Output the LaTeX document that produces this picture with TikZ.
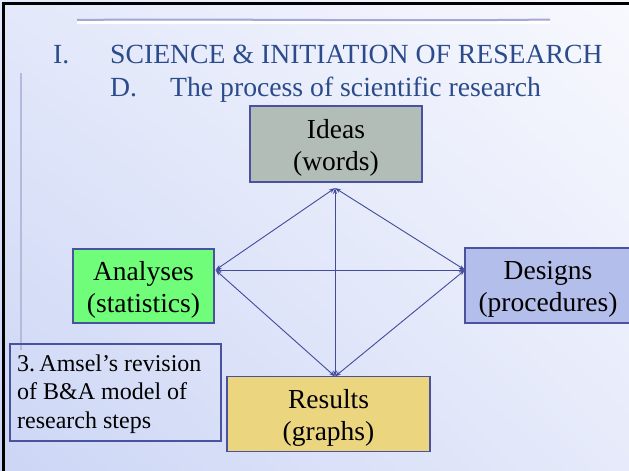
\documentclass[tikz,border=0pt]{standalone}
\usepackage{fontspec}
\setmainfont{Liberation Serif}
\usetikzlibrary{arrows.meta,shadings}
\definecolor{titleblue}{HTML}{2B4B8B}
\definecolor{edge}{HTML}{4A529F}
\definecolor{arrowc}{HTML}{434C9C}
\definecolor{ideasfill}{HTML}{B3BDB8}
\definecolor{analysesfill}{HTML}{70FD7A}
\definecolor{designsfill}{HTML}{B4BEEB}
\definecolor{resultsfill}{HTML}{EBD57F}
\definecolor{bgUL}{HTML}{E3E8FA}
\definecolor{bgUR}{HTML}{F8F9FE}
\definecolor{bgLL}{HTML}{CCD6F5}
\definecolor{bgLR}{HTML}{E6EAFA}
\definecolor{decoline}{HTML}{A4A8D2}
\begin{document}
\begin{tikzpicture}[x=1pt,y=-1pt,
 box/.style={draw=edge, line width=1.1pt, rectangle, inner sep=0pt},
 boxtext/.style={inner sep=0pt, align=center, yshift=-3.5pt, font=\fontsize{27.5}{32}\selectfont},
 link/.style={draw=arrowc, line width=0.9pt, {Stealth[length=6pt,width=4pt]}-{Stealth[length=6pt,width=4pt]}},
 titletext/.style={anchor=base west, inner sep=0pt, text=titleblue, font=\fontsize{27.7}{33}\selectfont},
 notetext/.style={anchor=north west, inner sep=0pt, align=left, font=\fontsize{24}{28.5}\selectfont}]
\useasboundingbox (0,0) rectangle (629,471);
\shade[shading=bilinear interpolation, upper left=bgUL, upper right=bgUR, lower left=bgLL, lower right=bgLR] (0,0) rectangle (629,471);
\draw[black, line width=3.5pt] (3.5,471) -- (3.5,3.5) -- (629,3.5);
\draw[white, line width=3pt] (77,22.5) -- (550,22.5);
\draw[decoline, line width=2pt] (77,20) .. controls (200,18.5) and (400,21.5) .. (550,19.5);
\draw[decoline!80, line width=2pt] (21,73) -- (21,350);

\node[titletext] (t1) at (53,63) {I.};
\node[titletext] (t2) at (110,63) {SCIENCE \& INITIATION OF RESEARCH};
\node[titletext] (t3) at (110,96) {D.};
\node[titletext] (t4) at (170,96) {The process of scientific research};

\node[box, fill=ideasfill, minimum width=172, minimum height=76] (ideas) at (336,144) {};
\node[boxtext] (ideasT) at (ideas.center) {Ideas\\(words)};
\node[box, fill=analysesfill, minimum width=141, minimum height=74] (analyses) at (143.5,286) {};
\node[boxtext] (analysesT) at (analyses.center) {Analyses\\(statistics)};
\node[box, fill=designsfill, minimum width=167, minimum height=75] (designs) at (548.5,285.5) {};
\node[boxtext] (designsT) at (548,285.5) {Designs\\(procedures)};
\node[box, fill=resultsfill, minimum width=203, minimum height=75] (results) at (328.5,414) {};
\node[boxtext] (resultsT) at (results.center) {Results\\(graphs)};
\node[box, minimum width=211, minimum height=97] (notebox) at (115.5,392.5) {};
\node[notetext] (note) at (17,354.6) {3.\hspace{0.18em}Amsel’s revision\\of B\&A model of\\research steps};

\coordinate (pI) at (335,188);
\coordinate (pA) at (215.5,270);
\coordinate (pD) at (465,270);
\coordinate (pR) at (335,376.5);
\draw[link] (pI) -- (pA);
\draw[link] (pI) -- (pD);
\draw[link] (pI) -- (pR);
\draw[link] (pA) -- (pD);
\draw[link] (pA) -- (pR);
\draw[link] (pD) -- (pR);
\end{tikzpicture}
\end{document}
